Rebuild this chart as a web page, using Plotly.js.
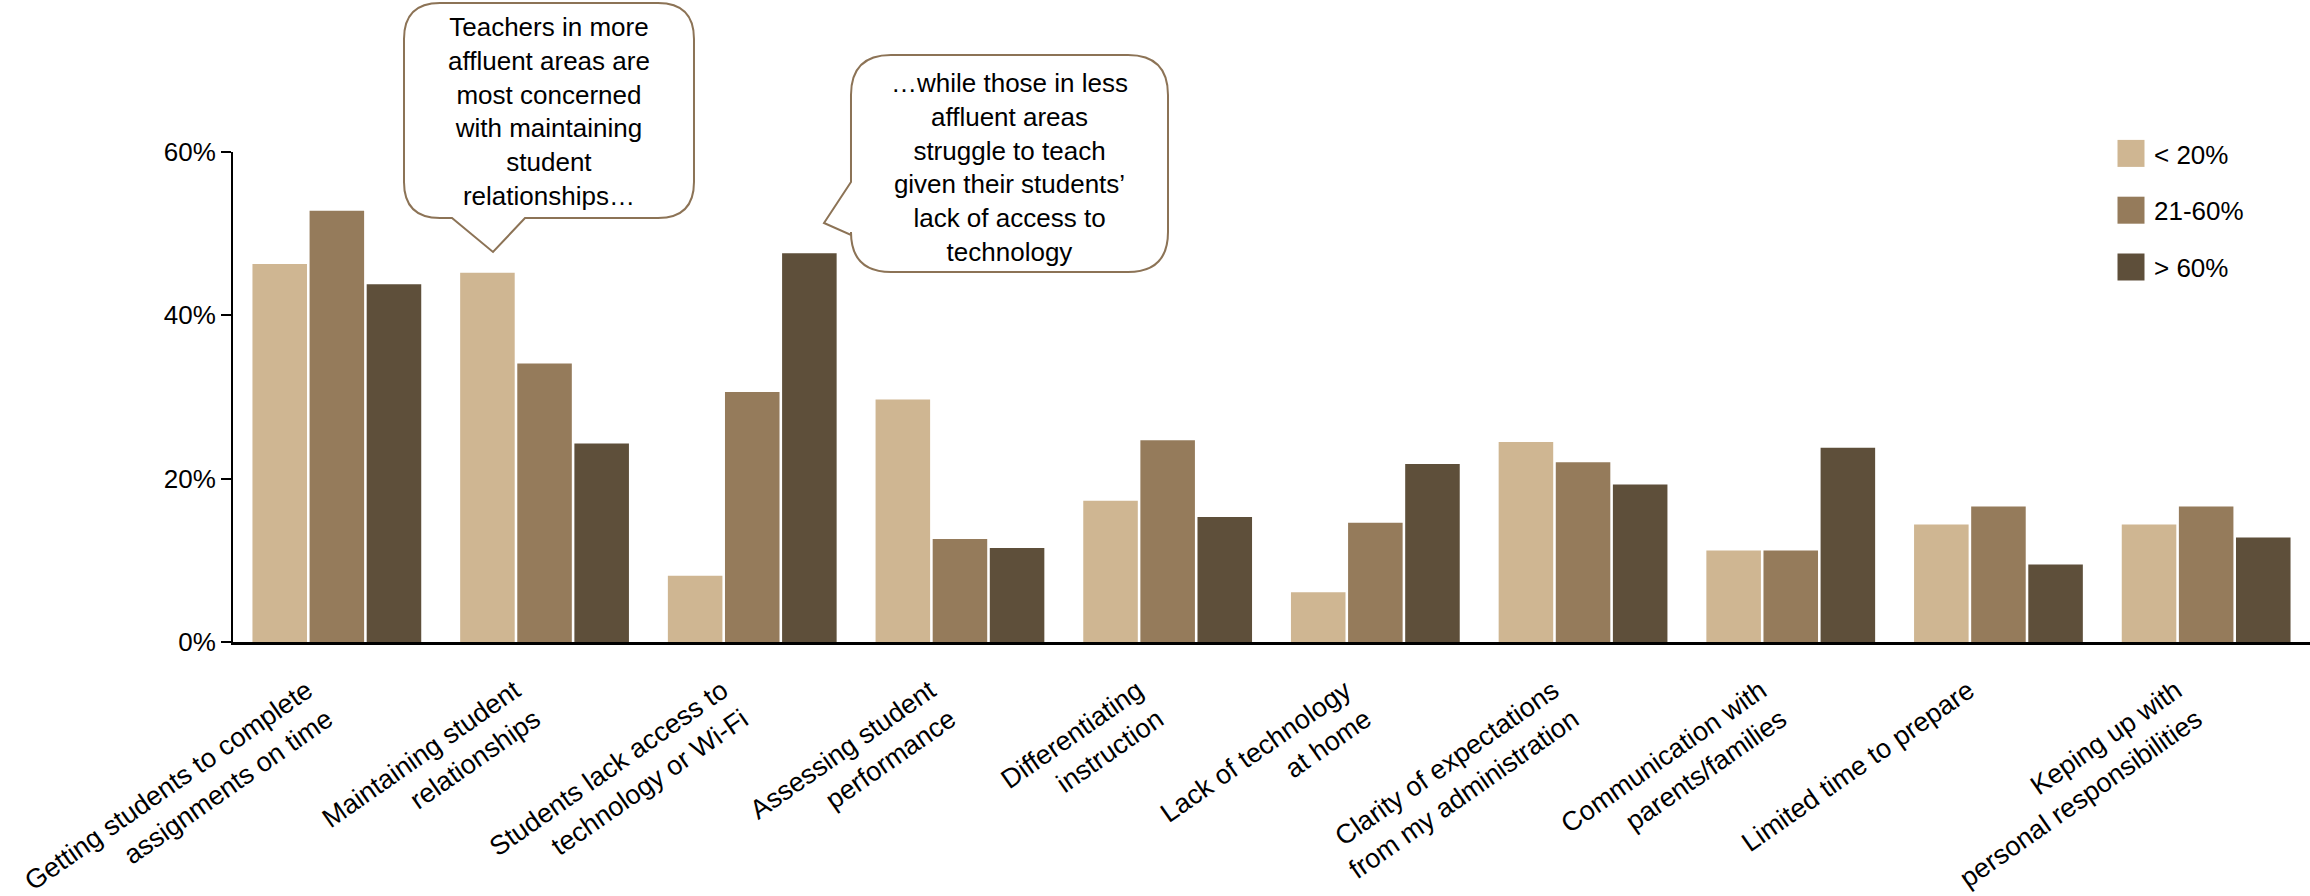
<!DOCTYPE html>
<html>
<head>
<meta charset="utf-8">
<script src="https://cdn.plot.ly/plotly-3.0.1.min.js"></script>
<style>
  html, body { margin: 0; padding: 0; background: #ffffff; }
  #chart { width: 2310px; height: 896px; }
</style>
</head>
<body>
<div id="chart"></div>
<script>
// ---- data ----
const categories = [
  'Getting students to complete<br>assignments on time',
  'Maintaining student<br>relationships',
  'Students lack access to<br>technology or Wi-Fi',
  'Assessing student<br>performance',
  'Differentiating<br>instruction',
  'Lack of technology<br>at home',
  'Clarity of expectations<br>from my administration',
  'Communication with<br>parents/families',
  'Limited time to prepare',
  'Keping up with<br>personal responsibilities'
];
const seriesNames = ['< 20%', '21-60%', '> 60%'];
const under20 = [46.3, 45.2, 8.1, 29.7, 17.3, 6.1, 24.5, 11.2, 14.4, 14.4];
const mid21to60 = [52.8, 34.1, 30.6, 12.6, 24.7, 14.6, 22.0, 11.2, 16.6, 16.6];
const over60 = [43.8, 24.3, 47.6, 11.5, 15.3, 21.8, 19.3, 23.8, 9.5, 12.8];
const yTickValues = [0, 20, 40, 60];
const calloutTexts = [
  'Teachers in more<br>affluent areas are<br>most concerned<br>with maintaining<br>student<br>relationships…',
  '…while those in less<br>affluent areas<br>struggle to teach<br>given their students’<br>lack of access to<br>technology'
];

// ---- styling ----
const colors = ['#CFB692', '#957B5B', '#5E4F3A'];
const FONT = 'Arial, "Liberation Sans", sans-serif';
const W = 2310, H = 896;
const ML = 233, MR = 0, MT = 152, MB = 254;
const PW = W - ML - MR, PH = H - MT - MB;
const X = px => (px - ML) / PW;
const Y = py => 1 - (py - MT) / PH;

const seriesValues = [under20, mid21to60, over60];
const traces = seriesValues.map((vals, i) => ({
  type: 'bar',
  name: seriesNames[i],
  x: categories,
  y: vals,
  legendgroup: 'g' + i,
  marker: { color: colors[i], line: { width: 0 } },
  hoverinfo: 'skip'
}));

function bubblePath(L, R, T, B, r, pointer) {
  const p = (x, y) => X(x).toFixed(5) + ',' + Y(y).toFixed(5);
  let d = 'M' + p(L + r, T) + ' L' + p(R - r, T) + ' Q' + p(R, T) + ' ' + p(R, T + r) +
          ' L' + p(R, B - r) + ' Q' + p(R, B) + ' ' + p(R - r, B);
  if (pointer.side === 'bottom') {
    d += ' L' + p(pointer.b, B) + ' L' + p(pointer.tx, pointer.ty) + ' L' + p(pointer.a, B);
  }
  d += ' L' + p(L + r, B) + ' Q' + p(L, B) + ' ' + p(L, B - r);
  if (pointer.side === 'left') {
    d += ' L' + p(L, pointer.b) + ' L' + p(pointer.tx, pointer.ty) + ' L' + p(L, pointer.a);
  }
  d += ' L' + p(L, T + r) + ' Q' + p(L, T) + ' ' + p(L + r, T) + ' Z';
  return d;
}

const shapes = [
  { type: 'path', xref: 'paper', yref: 'paper', layer: 'above',
    path: bubblePath(404, 694, 3, 218, 36, { side: 'bottom', a: 452, b: 525, tx: 493, ty: 252 }),
    fillcolor: '#ffffff', line: { color: '#8C7356', width: 2 } },
  { type: 'path', xref: 'paper', yref: 'paper', layer: 'above',
    path: bubblePath(851, 1168, 55, 272, 40, { side: 'left', a: 182, b: 235, tx: 824, ty: 223 }),
    fillcolor: '#ffffff', line: { color: '#8C7356', width: 2 } }
];

const annotations = [
  { xref: 'paper', yref: 'paper', x: X(549), y: Y(112), xanchor: 'center', yanchor: 'middle',
    text: calloutTexts[0], showarrow: false, align: 'center',
    font: { family: FONT, size: 26, color: '#000000' } },
  { xref: 'paper', yref: 'paper', x: X(1009), y: Y(167), xanchor: 'center', yanchor: 'middle',
    text: calloutTexts[1], showarrow: false, align: 'center',
    font: { family: FONT, size: 26, color: '#000000' } }
];

const layout = {
  width: W, height: H,
  margin: { l: ML, r: MR, t: MT, b: MB, pad: 0 },
  paper_bgcolor: '#ffffff', plot_bgcolor: '#ffffff',
  font: { family: FONT, size: 26, color: '#000000' },
  barmode: 'group',
  bargap: 0.175,
  bargroupgap: 0.045,
  showlegend: true,
  legend: {
    x: X(2114), xanchor: 'left', y: Y(130), yanchor: 'top',
    font: { family: FONT, size: 26, color: '#000000' },
    tracegroupgap: 20, bgcolor: 'rgba(0,0,0,0)', borderwidth: 0, itemclick: false
  },
  xaxis: {
    type: 'category',
    range: [-0.5, 9.5],
    showline: true, linecolor: '#000000', linewidth: 2.5,
    ticks: '', tickangle: -35,
    ticklabelshift: -30, ticklabelstandoff: 20,
    tickfont: { family: FONT, size: 27, color: '#000000' },
    showgrid: false, zeroline: false, fixedrange: true
  },
  yaxis: {
    range: [0, 60],
    tickvals: yTickValues,
    ticktext: yTickValues.map(v => v + '%'),
    showline: true, linecolor: '#000000', linewidth: 2,
    ticks: 'outside', ticklen: 10, tickwidth: 2, tickcolor: '#000000',
    tickfont: { family: FONT, size: 26, color: '#000000' },
    showgrid: false, zeroline: false, fixedrange: true
  },
  shapes: shapes,
  annotations: annotations
};

Plotly.newPlot('chart', traces, layout, { staticPlot: true, displayModeBar: false }).then(gd => {
  gd.querySelectorAll('.legendpoints path').forEach(p => {
    p.setAttribute('d', 'M10.5,13.5H-16.5V-13.5H10.5Z');
  });
});
</script>
</body>
</html>
